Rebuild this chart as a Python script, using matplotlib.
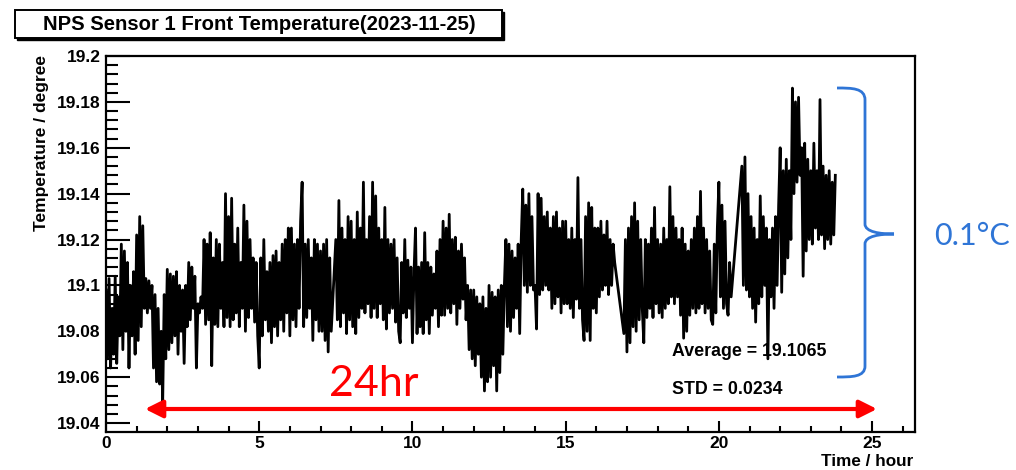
import matplotlib.pyplot as plt
from matplotlib.path import Path
from matplotlib.patches import PathPatch, Rectangle

plt.rcParams['font.family'] = ['Liberation Sans', 'DejaVu Sans']
plt.rcParams['font.weight'] = 'bold'

# sample time in minutes since midnight, one row per hour (gaps in hours 7, 16, 20)
time_min = [
    0, 3, 6, 9, 12, 15, 18, 21, 24, 27, 30, 33, 36, 39, 42, 45, 48, 51, 54, 57,
    60, 63, 66, 69, 72, 75, 78, 81, 84, 87, 90, 93, 96, 99, 102, 105, 108, 111, 114, 117,
    120, 123, 126, 129, 132, 135, 138, 141, 144, 147, 150, 153, 156, 159, 162, 165, 168, 171, 174, 177,
    180, 183, 186, 189, 192, 195, 198, 201, 204, 207, 210, 213, 216, 219, 222, 225, 228, 231, 234, 237,
    240, 243, 246, 249, 252, 255, 258, 261, 264, 267, 270, 273, 276, 279, 282, 285, 288, 291, 294, 297,
    300, 303, 306, 309, 312, 315, 318, 321, 324, 327, 330, 333, 336, 339, 342, 345, 348, 351, 354, 357,
    360, 363, 366, 369, 372, 375, 378, 381, 384, 387, 390, 393, 396, 399, 402, 405, 408, 411, 414, 417,
    420, 423, 426, 429, 432, 435, 438, 441, 450, 453, 456, 459, 462, 465, 468, 471, 474, 477,
    480, 483, 486, 489, 492, 495, 498, 501, 504, 507, 510, 513, 516, 519, 522, 525, 528, 531, 534, 537,
    540, 543, 546, 549, 552, 555, 558, 561, 564, 567, 570, 573, 576, 579, 582, 585, 588, 591, 594, 597,
    600, 603, 606, 609, 612, 615, 618, 621, 624, 627, 630, 633, 636, 639, 642, 645, 648, 651, 654, 657,
    660, 663, 666, 669, 672, 675, 678, 681, 684, 687, 690, 693, 696, 699, 702, 705, 708, 711, 714, 717,
    720, 723, 726, 729, 732, 735, 738, 741, 744, 747, 750, 753, 756, 759, 762, 765, 768, 771, 774, 777,
    780, 783, 786, 789, 792, 795, 798, 801, 804, 807, 810, 813, 816, 819, 822, 825, 828, 831, 834, 837,
    840, 843, 846, 849, 852, 855, 858, 861, 864, 867, 870, 873, 876, 879, 882, 885, 888, 891, 894, 897,
    900, 903, 906, 909, 912, 915, 918, 921, 924, 927, 930, 933, 936, 939, 942, 945, 948, 951, 954, 957,
    960, 963, 966, 969, 972, 975, 978, 981, 984, 987, 990, 993, 996, 1014, 1017,
    1020, 1023, 1026, 1029, 1032, 1035, 1038, 1041, 1044, 1047, 1050, 1053, 1056, 1059, 1062, 1065, 1068, 1071, 1074, 1077,
    1080, 1083, 1086, 1089, 1092, 1095, 1098, 1101, 1104, 1107, 1110, 1113, 1116, 1119, 1122, 1125, 1128, 1131, 1134, 1137,
    1140, 1143, 1146, 1149, 1152, 1155, 1158, 1161, 1164, 1167, 1170, 1173, 1176, 1179, 1182, 1185, 1188, 1191, 1194, 1197,
    1200, 1203, 1206, 1209, 1212, 1215, 1218, 1221, 1224, 1245, 1248, 1251, 1254, 1257,
    1260, 1263, 1266, 1269, 1272, 1275, 1278, 1281, 1284, 1287, 1290, 1293, 1296, 1299, 1302, 1305, 1308, 1311, 1314, 1317,
    1320, 1323, 1326, 1329, 1332, 1335, 1338, 1341, 1344, 1347, 1350, 1353, 1356, 1359, 1362, 1365, 1368, 1371, 1374, 1377,
    1380, 1383, 1386, 1389, 1392, 1395, 1398, 1401, 1404, 1407, 1410, 1413, 1416, 1419, 1422, 1425, 1428,
]
temp_c = [
    19.098, 19.068, 19.103, 19.064, 19.090, 19.070, 19.104, 19.066, 19.095, 19.078, 19.118, 19.072, 19.115, 19.080, 19.110, 19.064, 19.100, 19.078, 19.106, 19.070,
    19.122, 19.076, 19.130, 19.082, 19.126, 19.090, 19.103, 19.088, 19.102, 19.090, 19.100, 19.064, 19.096, 19.058, 19.090, 19.057, 19.080, 19.049, 19.096, 19.068,
    19.107, 19.072, 19.105, 19.075, 19.104, 19.078, 19.106, 19.070, 19.100, 19.080, 19.098, 19.066, 19.100, 19.082, 19.110, 19.085, 19.108, 19.090, 19.104, 19.064,
    19.092, 19.088, 19.095, 19.090, 19.120, 19.083, 19.118, 19.085, 19.123, 19.065, 19.112, 19.083, 19.120, 19.082, 19.118, 19.090, 19.110, 19.082, 19.140, 19.086,
    19.130, 19.082, 19.138, 19.085, 19.118, 19.088, 19.125, 19.082, 19.110, 19.090, 19.135, 19.080, 19.128, 19.086, 19.120, 19.090, 19.112, 19.084, 19.110, 19.078,
    19.064, 19.112, 19.078, 19.120, 19.085, 19.106, 19.080, 19.110, 19.075, 19.113, 19.082, 19.115, 19.078, 19.110, 19.085, 19.118, 19.080, 19.120, 19.088, 19.125,
    19.078, 19.125, 19.085, 19.118, 19.082, 19.120, 19.090, 19.128, 19.145, 19.082, 19.118, 19.086, 19.120, 19.090, 19.112, 19.076, 19.120, 19.085, 19.118, 19.080,
    19.115, 19.080, 19.118, 19.076, 19.120, 19.071, 19.112, 19.080, 19.120, 19.085, 19.137, 19.082, 19.125, 19.088, 19.120, 19.079, 19.130, 19.085,
    19.128, 19.082, 19.120, 19.079, 19.132, 19.086, 19.125, 19.090, 19.145, 19.088, 19.120, 19.092, 19.130, 19.086, 19.145, 19.090, 19.139, 19.086, 19.125, 19.092,
    19.120, 19.085, 19.134, 19.081, 19.120, 19.088, 19.118, 19.090, 19.120, 19.084, 19.112, 19.080, 19.075, 19.110, 19.088, 19.120, 19.086, 19.111, 19.090, 19.108,
    19.075, 19.105, 19.125, 19.079, 19.108, 19.082, 19.110, 19.079, 19.123, 19.085, 19.110, 19.079, 19.108, 19.087, 19.105, 19.090, 19.115, 19.082, 19.120, 19.087,
    19.128, 19.087, 19.125, 19.090, 19.131, 19.088, 19.120, 19.092, 19.121, 19.083, 19.115, 19.090, 19.118, 19.094, 19.112, 19.085, 19.100, 19.072, 19.098, 19.068,
    19.098, 19.065, 19.095, 19.070, 19.092, 19.060, 19.095, 19.054, 19.090, 19.058, 19.100, 19.060, 19.097, 19.065, 19.095, 19.054, 19.098, 19.062, 19.100, 19.070,
    19.100, 19.120, 19.082, 19.118, 19.080, 19.115, 19.086, 19.112, 19.090, 19.118, 19.079, 19.120, 19.142, 19.100, 19.135, 19.097, 19.140, 19.100, 19.130, 19.098,
    19.100, 19.081, 19.140, 19.096, 19.138, 19.098, 19.130, 19.100, 19.132, 19.098, 19.125, 19.090, 19.130, 19.092, 19.132, 19.095, 19.125, 19.088, 19.128, 19.092,
    19.128, 19.092, 19.120, 19.090, 19.125, 19.086, 19.120, 19.094, 19.147, 19.090, 19.120, 19.085, 19.076, 19.130, 19.080, 19.136, 19.076, 19.134, 19.090, 19.125,
    19.088, 19.125, 19.095, 19.128, 19.098, 19.122, 19.100, 19.128, 19.096, 19.120, 19.100, 19.118, 19.110, 19.079, 19.120,
    19.071, 19.125, 19.075, 19.130, 19.082, 19.136, 19.080, 19.128, 19.085, 19.120, 19.090, 19.075, 19.120, 19.086, 19.118, 19.090, 19.125, 19.086, 19.134, 19.092,
    19.120, 19.088, 19.118, 19.086, 19.125, 19.090, 19.120, 19.092, 19.143, 19.095, 19.130, 19.092, 19.125, 19.095, 19.120, 19.087, 19.125, 19.077, 19.118, 19.080,
    19.115, 19.087, 19.120, 19.090, 19.125, 19.088, 19.130, 19.090, 19.141, 19.092, 19.125, 19.088, 19.120, 19.090, 19.115, 19.085, 19.083, 19.118, 19.088, 19.125,
    19.145, 19.095, 19.135, 19.090, 19.128, 19.092, 19.087, 19.110, 19.095, 19.152, 19.100, 19.156, 19.098, 19.140,
    19.095, 19.130, 19.090, 19.125, 19.084, 19.120, 19.092, 19.139, 19.095, 19.130, 19.100, 19.125, 19.068, 19.120, 19.095, 19.125, 19.090, 19.130, 19.100, 19.135,
    19.160, 19.097, 19.150, 19.105, 19.155, 19.112, 19.150, 19.120, 19.186, 19.140, 19.180, 19.145, 19.182, 19.148, 19.160, 19.104, 19.162, 19.115, 19.155, 19.120,
    19.150, 19.118, 19.162, 19.125, 19.150, 19.120, 19.181, 19.122, 19.152, 19.116, 19.148, 19.120, 19.150, 19.118, 19.145, 19.122, 19.148,
]
y_ticks = [19.04, 19.06, 19.08, 19.10, 19.12, 19.14, 19.16, 19.18, 19.20]
x_ticks = [0, 5, 10, 15, 20, 25]
title = 'NPS Sensor 1 Front Temperature(2023-11-25)'
stats = ['Average = 19.1065', 'STD = 0.0234']

W, H = 1016, 470


def fp(x, y):
    # pixel (from top-left) -> figure fraction
    return x / W, 1 - y / H


fig = plt.figure(figsize=(W / 100, H / 100), dpi=100)
ax = fig.add_axes([106 / W, 1 - 432 / H, 809 / W, 376 / H])

ax.plot([m / 60 for m in time_min], temp_c, color='black', lw=2.0)

ax.set_xlim(0, 26.4)
ax.set_ylim(19.0361, 19.2)
ax.set_yticks(y_ticks)
ax.set_yticklabels([f'{v:.2f}'.rstrip('0') for v in y_ticks])
ax.set_yticks([19.04 + 0.004 * i for i in range(41)], minor=True)
ax.set_xticks(x_ticks)
ax.set_xticks(range(27), minor=True)
ax.tick_params(axis='y', which='major', direction='in', length=17, width=1.5, labelsize=12.5, pad=4)
ax.tick_params(axis='y', which='minor', direction='in', length=8.5, width=1.5)
ax.tick_params(axis='x', which='major', direction='in', length=8, width=1.5, labelsize=12.5, pad=3)
ax.tick_params(axis='x', which='minor', direction='in', length=4.5, width=1.5)
for s in ax.spines.values():
    s.set_linewidth(1.6)

fig.text(*fp(42, 55), 'Temperature / degree', rotation=90, rotation_mode='anchor',
         ha='right', va='center', fontsize=12.5)
fig.text(*fp(913, 461), 'Time / hour', ha='right', va='center', fontsize=12.3)

# title box with ROOT-like shadow
fig.patches.append(Rectangle(fp(17, 40), 487 / W, 28 / H, transform=fig.transFigure,
                             facecolor='black', edgecolor='black'))
fig.patches.append(Rectangle(fp(15, 38), 487 / W, 28 / H, transform=fig.transFigure,
                             facecolor='white', edgecolor='black', lw=1.4))
fig.text(*fp(259, 24), title, ha='center', va='center', fontsize=14.6)

ax.text(*fp(672, 352), stats[0], transform=fig.transFigure, ha='left', va='center', fontsize=12.8)
ax.text(*fp(672, 390), stats[1], transform=fig.transFigure, ha='left', va='center', fontsize=12.8)

# red 24hr arrow
ax.annotate('', xy=fp(877, 409), xytext=fp(145, 409), xycoords='figure fraction',
            textcoords='figure fraction',
            arrowprops=dict(arrowstyle='<|-|>,head_length=0.7,head_width=0.35',
                            mutation_scale=15, color='red', lw=3, shrinkA=0, shrinkB=0))
fig.text(*fp(374, 384), '24hr', color='red', ha='center', va='center',
         fontsize=31, fontweight='normal', family=['Lato', 'DejaVu Sans'])

# blue brace
pts = [(837, 88), (852, 88), (865, 88), (865, 100),
       (865, 224),
       (865, 232), (880, 234), (894, 234),
       (880, 234), (865, 236), (865, 244),
       (865, 366),
       (865, 377), (852, 377), (837, 377)]
codes = [Path.MOVETO, Path.CURVE4, Path.CURVE4, Path.CURVE4,
         Path.LINETO,
         Path.CURVE4, Path.CURVE4, Path.CURVE4,
         Path.CURVE4, Path.CURVE4, Path.CURVE4,
         Path.LINETO,
         Path.CURVE4, Path.CURVE4, Path.CURVE4]
brace = Path([fp(x, y) for x, y in pts], codes)
fig.patches.append(PathPatch(brace, transform=fig.transFigure, facecolor='none',
                             edgecolor='#2f75d6', lw=2))
fig.text(*fp(972, 236), '0.1°C', color='#2f75d6', ha='center', va='center',
         fontsize=22, fontweight='normal', family=['Lato', 'DejaVu Sans'])

fig.savefig('out.png', dpi=100)
